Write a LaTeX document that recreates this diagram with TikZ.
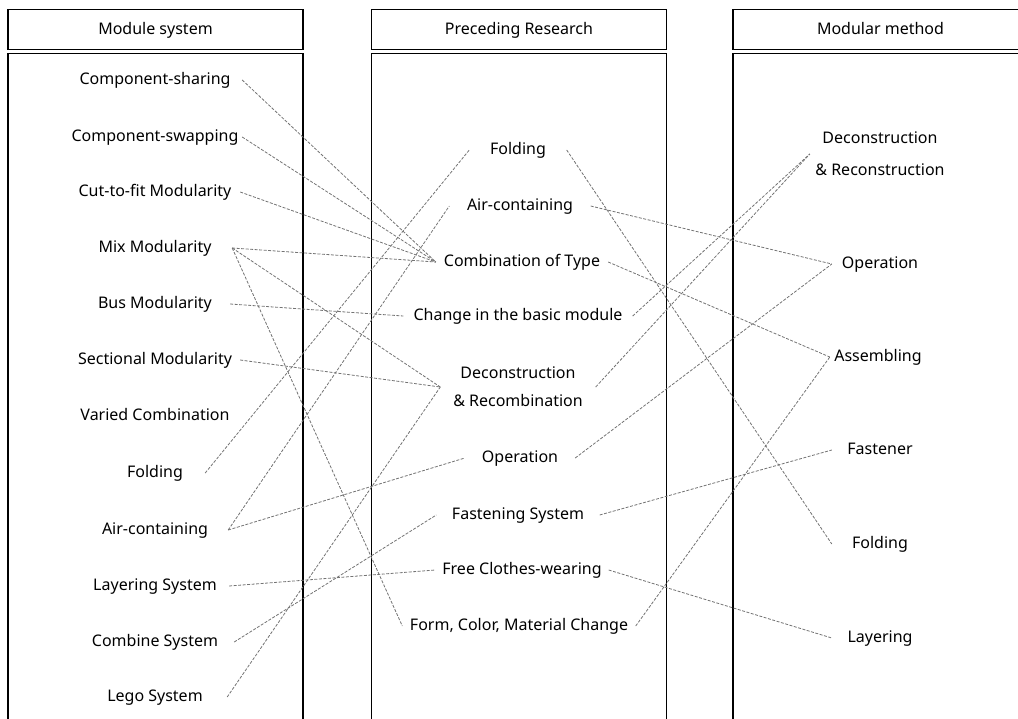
\documentclass[tikz,border=0pt]{standalone}
\usepackage{fontspec}
\setmainfont{Noto Sans}
\tikzset{
  colhead/.style={draw, line width=1.1pt, minimum width=295pt, minimum height=40pt, inner sep=0pt, text height=11.5pt, text depth=3pt},
  colbody/.style={draw, line width=1.1pt},
  itemtext/.style={inner sep=0pt, text height=11.5pt, text depth=3pt},
  twoline/.style={inner sep=0pt, align=center, font=\fontsize{16}{#1}\selectfont},
  link/.style={draw=black!55, line width=0.8pt, dash pattern=on 3pt off 1.5pt},
}
\begin{document}
\begin{tikzpicture}[x=1pt, y=-1pt, font=\fontsize{16}{19}\selectfont]
\clip (0,0) rectangle (1018,718);
% column frames
\node[colhead] (hms) at (155.5,29.75) {Module system};
\node[colhead] (hpr) at (519,29.75) {Preceding Research};
\node[colhead] (hmm) at (880.5,29.75) {Modular method};
\draw[colbody] (8,725) -- (8,53.5) -- (303,53.5) -- (303,725);
\draw[colbody] (371.5,725) -- (371.5,53.5) -- (666.5,53.5) -- (666.5,725);
\draw[colbody] (733,725) -- (733,53.5) -- (1028,53.5) -- (1028,725);
% module system
\node[itemtext, minimum width=174pt] (msShare) at (155,80) {Component-sharing};
\node[itemtext, minimum width=174pt] (msSwap) at (155,137) {Component-swapping};
\node[itemtext, minimum width=170pt] (msCut) at (155,192) {Cut-to-fit Modularity};
\node[itemtext, minimum width=154pt] (msMix) at (155,248) {Mix Modularity};
\node[itemtext, minimum width=150pt] (msBus) at (155,304) {Bus Modularity};
\node[itemtext, minimum width=170pt] (msSect) at (155,360) {Sectional Modularity};
\node[itemtext] (msVaried) at (155,416) {Varied Combination};
\node[itemtext, minimum width=100pt] (msFold) at (155,473) {Folding};
\node[itemtext, minimum width=146pt] (msAir) at (155,530) {Air-containing};
\node[itemtext, minimum width=148pt] (msLayer) at (155,586) {Layering System};
\node[itemtext, minimum width=158pt] (msComb) at (155,642) {Combine System};
\node[itemtext, minimum width=144pt] (msLego) at (155,697) {Lego System};
% preceding research
\node[itemtext, minimum width=97pt] (prFold) at (518,150) {Folding};
\node[itemtext, minimum width=141pt] (prAir) at (520,206) {Air-containing};
\node[itemtext, minimum width=172pt] (prComb) at (522,262) {Combination of Type};
\node[itemtext, minimum width=229pt] (prChange) at (518,316) {Change in the basic module};
\node[twoline=28, minimum width=155pt] (prDecon) at (518,387) {Deconstruction\\\& Recombination};
\node[itemtext, minimum width=110pt] (prOper) at (520,458) {Operation};
\node[itemtext, minimum width=163pt] (prFasten) at (518,515) {Fastening System};
\node[itemtext, minimum width=173pt] (prFree) at (522,570) {Free Clothes-wearing};
\node[itemtext, minimum width=233pt] (prForm) at (519,626) {Form, Color, Material Change};
% modular method
\node[twoline=32, minimum width=140pt] (mmDecon) at (880,154) {Deconstruction\\\& Reconstruction};
\node[itemtext, minimum width=96pt] (mmOper) at (880,264) {Operation};
\node[itemtext, minimum width=96pt] (mmAssem) at (878,357) {Assembling};
\node[itemtext, minimum width=96pt] (mmFasten) at (880,450) {Fastener};
\node[itemtext, minimum width=96pt] (mmFold) at (880,544) {Folding};
\node[itemtext, minimum width=96pt] (mmLayer) at (880,638) {Layering};
% links
\draw[link] (msShare.east) -- (prComb.west);
\draw[link] (msSwap.east) -- (prComb.west);
\draw[link] (msCut.east) -- (prComb.west);
\draw[link] (msMix.east) -- (prComb.west);
\draw[link] (msMix.east) -- (prDecon.west);
\draw[link] (msMix.east) -- (prForm.west);
\draw[link] (msBus.east) -- (prChange.west);
\draw[link] (msSect.east) -- (prDecon.west);
\draw[link] (msFold.east) -- (prFold.west);
\draw[link] (msAir.east) -- (prAir.west);
\draw[link] (msAir.east) -- (prOper.west);
\draw[link] (msLayer.east) -- (prFree.west);
\draw[link] (msComb.east) -- (prFasten.west);
\draw[link] (msLego.east) -- (prDecon.west);
\draw[link] (prFold.east) -- (mmFold.west);
\draw[link] (prAir.east) -- (mmOper.west);
\draw[link] (prComb.east) -- (mmAssem.west);
\draw[link] (prChange.east) -- (mmDecon.west);
\draw[link] (prDecon.east) -- (mmDecon.west);
\draw[link] (prOper.east) -- (mmOper.west);
\draw[link] (prFasten.east) -- (mmFasten.west);
\draw[link] (prFree.east) -- (mmLayer.west);
\draw[link] (prForm.east) -- (mmAssem.west);
\end{tikzpicture}
\end{document}
